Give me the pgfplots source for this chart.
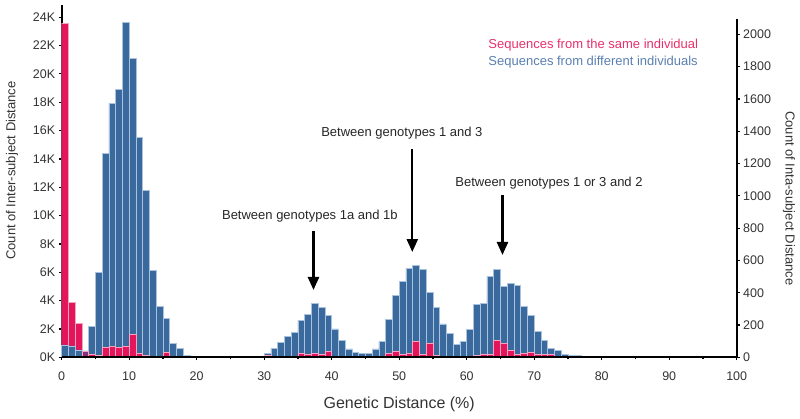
\documentclass[border=0pt]{standalone}
\usepackage{fontspec}
\setmainfont{Liberation Sans}
\usepackage{pgfplots}
\usepackage{pgfplotstable}
\pgfplotsset{compat=1.18}
\usetikzlibrary{arrows.meta}
\definecolor{barblue}{HTML}{3A699E}
\definecolor{edgeblue}{HTML}{A9C3DE}
\definecolor{barpink}{HTML}{E3165B}
\definecolor{edgepink}{HTML}{F6A5C1}
\definecolor{barpurple}{HTML}{86307A}
\definecolor{legpink}{HTML}{E8306C}
\definecolor{legblue}{HTML}{5A7FB0}
\definecolor{txt}{HTML}{333333}

% inter-subject counts (thousands), bin centres
\pgfplotstableread{
x y
0.5 0.87
1.5 0.80
2.5 0.52
3.5 0.45
4.5 2.2
5.5 6.0
6.5 14.4
7.5 17.9
8.5 18.9
9.5 23.66
10.5 21.1
11.5 15.5
12.5 11.8
13.5 6.16
14.5 3.57
15.5 2.75
16.5 0.99
17.5 0.64
18.5 0.16
19.5 0.05
29.5 0.09
30.5 0.28
31.5 0.61
32.5 1.03
33.5 1.5
34.5 1.74
35.5 2.63
36.5 3.03
37.5 3.81
38.5 3.5
39.5 2.98
40.5 2.0
41.5 1.22
42.5 0.59
43.5 0.35
44.5 0.28
45.5 0.28
46.5 0.59
47.5 1.1
48.5 2.68
49.5 4.35
50.5 5.34
51.5 6.28
52.5 6.47
53.5 6.22
54.5 4.6
55.5 3.5
56.5 2.35
57.5 1.69
58.5 0.92
59.5 1.1
60.5 1.98
61.5 3.74
62.5 3.81
63.5 5.69
64.5 6.23
65.5 4.98
66.5 5.22
67.5 5.1
68.5 3.57
69.5 2.98
70.5 1.81
71.5 1.22
72.5 0.63
73.5 0.47
74.5 0.23
75.5 0.16
76.5 0.16
77.5 0.05
}\bluedata

% intra-subject counts
\pgfplotstableread{
x y
0.5 2070
1.5 340
2.5 212
4.5 20
5.5 14
6.5 60
7.5 68
8.5 60
9.5 67
10.5 144
11.5 22
12.5 9
13.5 5
14.5 5
15.5 30
16.5 3
30.5 10
35.5 25
36.5 15
37.5 25
38.5 15
39.5 35
40.5 8
47.5 5
48.5 25
49.5 35
50.5 15
51.5 25
52.5 100
53.5 15
54.5 85
55.5 10
56.5 8
60.5 8
61.5 10
62.5 15
63.5 15
64.5 107
65.5 85
66.5 45
67.5 20
68.5 25
69.5 30
70.5 20
71.5 15
72.5 15
73.5 8
74.5 5
}\pinkdata

\pgfplotsset{
  base/.style={
    scale only axis, width=675pt, xmin=0, xmax=100,
    at={(0pt,0pt)}, anchor=south west,
    /pgf/number format/assume math mode=true,
    /pgf/number format/1000 sep={},
    tick label style={font=\fontsize{12.5}{14}\selectfont, text=txt},
    axis line style={line width=1.8pt, black},
    tick align=outside, major tick length=3pt,
    every tick/.style={black, line width=1.2pt},
  },
}

\begin{document}
\begin{tikzpicture}
\useasboundingbox (-61.7pt,-60.7pt) rectangle (738.3pt,357.3pt);

% left axis: inter-subject (blue)
\begin{axis}[base, height=352.3pt, ymin=0, ymax=24.86,
  axis y line*=left, axis x line=none, xtick=\empty,
  ytick={0,2,...,24}, yticklabel={\pgfmathprintnumber{\tick}K},
  ylabel={Count of Inter-subject Distance},
  ylabel style={font=\fontsize{13}{15}\selectfont, text=txt, at={(ticklabel cs:0.53)}},
  ylabel shift=8pt]
\addplot[ybar, bar width=1, fill=barblue, draw=edgeblue, line width=0.8pt] table {\bluedata};
\end{axis}

% right axis: intra-subject (pink)
\begin{axis}[base, height=338.3pt, ymin=0, ymax=2095,
  axis y line*=right, axis x line=none, xtick=\empty,
  ytick={0,200,...,2000},
  ylabel={Count of Inta-subject Distance},
  ylabel style={font=\fontsize{13}{15}\selectfont, text=txt, rotate=180, at={(ticklabel cs:0.47)}},
  ylabel shift=5pt]
\addplot[ybar, bar width=1, fill=barpink, draw=edgepink, line width=0.8pt] table {\pinkdata};
\end{axis}

% x axis, overlays and annotations
\begin{axis}[base, height=352.3pt, ymin=0, ymax=24.86,
  axis x line*=bottom, axis y line=none, ytick=\empty,
  xtick={0,10,...,100}, minor x tick num=1, minor tick length=2pt,
  xticklabel style={yshift=-8pt},
  xlabel={Genetic Distance (\%)},
  xlabel style={font=\fontsize{16}{18}\selectfont, text=txt},
  xlabel shift=9pt,
  axis on top, clip=false]
\addplot[ybar, bar width=1, fill=barblue, draw=edgeblue, line width=0.8pt] coordinates {(0.5,0.87) (1.5,0.80) (2.5,0.52)};
\addplot[ybar, bar width=1, fill=barpurple, draw=edgepink, line width=0.8pt] coordinates {(3.5,0.45)};

\node[font=\fontsize{13}{15}\selectfont, text=black!85] at (axis cs:36.77,9.97) {Between genotypes 1a and 1b};
\draw[line width=2.4pt, -{Triangle[width=11pt,length=13pt]}] (axis cs:37.3,8.91) -- (axis cs:37.3,4.75);
\node[font=\fontsize{13}{15}\selectfont, text=black!85] at (axis cs:50.4,15.83) {Between genotypes 1 and 3};
\draw[line width=2.4pt, -{Triangle[width=11pt,length=13pt]}] (axis cs:51.94,14.7) -- (axis cs:51.94,7.43);
\node[font=\fontsize{13}{15}\selectfont, text=black!85, anchor=west] at (axis cs:57.8,12.3) {Between genotypes 1 or 3 and 2};
\draw[line width=2.4pt, -{Triangle[width=11pt,length=13pt]}] (axis cs:65.3,11.45) -- (axis cs:65.3,7.22);

\node[font=\fontsize{13}{15}\selectfont, text=legpink, anchor=west] at (rel axis cs:0.627,0.886) {Sequences from the same individual};
\node[font=\fontsize{13}{15}\selectfont, text=legblue, anchor=west] at (rel axis cs:0.627,0.839) {Sequences from different individuals};
\end{axis}
\end{tikzpicture}
\end{document}
